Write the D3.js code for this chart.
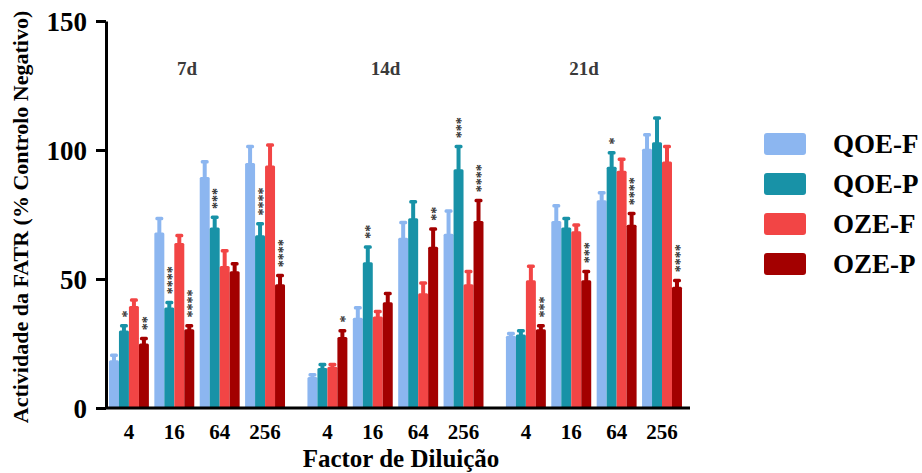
<!DOCTYPE html>
<head>
    <meta charset="utf-8">
    <title>Actividade da FATR</title>
    <script src="https://d3js.org/d3.v7.min.js"></script>
    <style>
        body { margin: 0; background: #fff; }
        text { font-family: "Liberation Serif", "DejaVu Serif", serif; }
    </style>
</head>
<body>
    <div id="container"></div>
    <script>
        //------------------------DATA------------------------//
        var groups = ["7d", "14d", "21d"];
        var dilutions = ["4", "16", "64", "256"];
        var series = ["QOE-F", "QOE-P", "OZE-F", "OZE-P"];
        var yTicks = [0, 50, 100, 150];

        // values in order 7d(4,16,64,256), 14d(...), 21d(...)
        var qoeF = [18.5, 68, 89.5, 95, 12, 35, 66, 67.5, 28, 72.5, 80.5, 100.5];
        var qoeFErr = [2, 5.5, 6, 6.5, 1, 4, 6, 9, 1, 6, 3, 5.5];
        var qoeP = [30, 39, 70, 67, 15.5, 56.5, 73.5, 92.5, 28.5, 70, 93.5, 103];
        var qoePErr = [2, 2, 4, 4.5, 1.5, 6, 6.5, 9, 1.5, 3.5, 5.5, 9.5];
        var ozeF = [39.5, 64, 55, 94, 16, 35.5, 44.5, 48, 49.5, 68.5, 92, 95.5];
        var ozeFErr = [2.5, 3, 6, 8, 1, 2, 4, 5, 5.5, 2.5, 4.5, 6];
        var ozeP = [25, 30.5, 53, 48, 27.5, 41, 62.5, 72.5, 30.5, 49.5, 71, 47];
        var ozePErr = [2, 1.5, 3, 3.5, 2.5, 3.5, 7, 8, 1.5, 3.5, 4.5, 2.5];

        var qoeFStars = ["", "", "", "", "", "", "", "", "", "", "", ""];
        var qoePStars = ["*", "****", "***", "****", "", "**", "", "***", "", "", "*", ""];
        var ozeFStars = ["", "", "", "", "", "", "", "", "", "", "", ""];
        var ozePStars = ["**", "****", "", "****", "*", "", "**", "****", "***", "***", "****", "****"];

        var colors = ["#8cb6f0", "#1892a7", "#f24545", "#a30000"];

        //------------------------SETUP------------------------//
        var width = 922, height = 473;
        var svg = d3.select("#container").append("svg")
            .attr("width", width).attr("height", height);

        var valueSets = [qoeF, qoeP, ozeF, ozeP];
        var errSets = [qoeFErr, qoePErr, ozeFErr, ozePErr];
        var starSets = [qoeFStars, qoePStars, ozeFStars, ozePStars];

        var rows = [];
        groups.forEach(function (g, gi) {
            dilutions.forEach(function (d, di) {
                series.forEach(function (s, si) {
                    var k = gi * dilutions.length + di;
                    rows.push({ group: g, dil: d, series: s, si: si,
                        value: valueSets[si][k], err: errSets[si][k], stars: starSets[si][k] });
                });
            });
        });

        var y = d3.scaleLinear().domain([0, 150]).range([408, 21]);
        var x0 = d3.scaleBand().domain(groups).range([106, 690])
            .paddingInner(0.113).paddingOuter(0.0277).align(0.27);
        var x1 = d3.scaleBand().domain(dilutions).range([0, x0.bandwidth()]).paddingInner(0.12);
        var x2 = d3.scaleBand().domain(series).range([0, x1.bandwidth()]);
        var color = d3.scaleOrdinal().domain(series).range(colors);

        function bx(d) { return x0(d.group) + x1(d.dil) + x2(d.series); }

        //------------------------BARS------------------------//
        var bars = svg.append("g");

        // error bar stems
        bars.selectAll(".stem").data(rows).join("rect")
            .attr("x", d => bx(d) + x2.bandwidth() / 2 - 2)
            .attr("width", 4)
            .attr("y", d => y(d.value + d.err))
            .attr("height", d => y(d.value) - y(d.value + d.err) + 2)
            .attr("fill", d => color(d.series));

        // caps
        bars.selectAll(".cap").data(rows).join("rect")
            .attr("x", d => bx(d) + x2.bandwidth() / 2 - 4)
            .attr("width", 8)
            .attr("y", d => y(d.value + d.err) - 1.5)
            .attr("height", 3.5)
            .attr("rx", 1.5)
            .attr("fill", d => color(d.series));

        bars.selectAll(".bar").data(rows).join("rect")
            .attr("x", d => bx(d))
            .attr("width", x2.bandwidth())
            .attr("y", d => y(d.value))
            .attr("height", d => y(0) - y(d.value))
            .attr("rx", 1.5)
            .attr("fill", d => color(d.series));

        // significance stars (vertical)
        bars.selectAll(".star").data(rows.filter(d => d.stars)).join("text")
            .attr("transform", d => "translate(" + (bx(d) + x2.bandwidth() / 2) + "," + (y(d.value + d.err) - 8) + ") rotate(-90)")
            .attr("dy", "0.55em")
            .attr("text-anchor", "start")
            .style("font-size", "14px")
            .style("font-weight", "bold")
            .attr("fill", "#333")
            .text(d => d.stars);

        //------------------------AXES------------------------//
        var yAxis = svg.append("g")
            .attr("transform", "translate(106,0)")
            .call(d3.axisLeft(y).tickValues(yTicks).tickSize(10).tickSizeOuter(0).tickPadding(9));
        yAxis.selectAll("path, line").attr("stroke", "#000").attr("stroke-width", 3);
        yAxis.selectAll("text")
            .style("font-size", "27px").style("font-weight", "bold").attr("fill", "#000")
            .attr("dy", "0.34em");

        svg.append("line")
            .attr("x1", x0.range()[0]).attr("x2", x0.range()[1])
            .attr("y1", y(0)).attr("y2", y(0))
            .attr("stroke", "#000").attr("stroke-width", 3);

        groups.forEach(function (g) {
            var ax = svg.append("g")
                .attr("transform", "translate(" + x0(g) + "," + y(0) + ")")
                .call(d3.axisBottom(x1).tickSize(0).tickPadding(16));
            ax.select(".domain").remove();
            ax.selectAll("text")
                .style("font-size", "21px").style("font-weight", "bold").attr("fill", "#000");
        });

        // group labels
        svg.selectAll(".glabel").data(groups).join("text")
            .attr("x", d => x0(d) + x0.bandwidth() / 2 - 10)
            .attr("y", 75)
            .attr("text-anchor", "middle")
            .style("font-size", "19px").style("font-weight", "bold")
            .attr("fill", "#3a3a3a")
            .text(d => d);

        // axis titles
        svg.append("text")
            .attr("x", 401).attr("y", 467)
            .attr("text-anchor", "middle")
            .style("font-size", "25px").style("font-weight", "bold")
            .text("Factor de Diluição");

        svg.append("text")
            .attr("transform", "translate(28,217) rotate(-90)")
            .attr("text-anchor", "middle")
            .style("font-size", "22px").style("font-weight", "bold")
            .text("Actividade da FATR (% Controlo Negativo)");

        //------------------------LEGEND------------------------//
        var legend = svg.selectAll(".legend").data(series).join("g")
            .attr("transform", (d, i) => "translate(764," + (133 + i * 40) + ")");
        legend.append("rect")
            .attr("width", 42).attr("height", 22).attr("rx", 3)
            .attr("fill", d => color(d));
        legend.append("text")
            .attr("x", 69).attr("y", 11).attr("dy", "0.35em")
            .style("font-size", "27px").style("font-weight", "bold")
            .text(d => d);
    </script>
</body>
